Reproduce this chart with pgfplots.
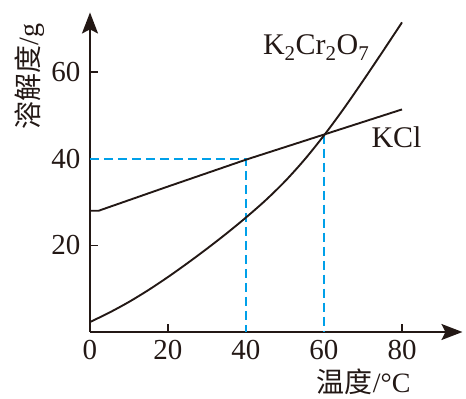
\documentclass[border=0pt]{standalone}
\usepackage{pgfplots}
\pgfplotsset{compat=1.18}
\usepackage{fontspec}
\setmainfont{Liberation Serif}
\newfontfamily\cjk{Noto Sans CJK SC}
\usetikzlibrary{arrows.meta}
\definecolor{ink}{RGB}{35,24,21}
\definecolor{dblue}{RGB}{0,160,233}
\begin{document}
\begin{tikzpicture}
\begin{axis}[
  anchor=origin, at={(0pt,0pt)},
  x=3.9pt, y=4.33pt,
  xmin=0, xmax=95.5, ymin=0, ymax=73.8,
  axis lines=left,
  axis line style={line width=1.8pt, color=ink, -{Stealth[length=21pt,width=16pt,inset=4pt]}},
  clip=false,
  xtick={20,80}, ytick={20,40,60},
  extra x ticks={0,40,60},
  extra x tick style={major tick length=0pt},
  tick align=inside,
  major tick length=8pt,
  tick style={line width=1.6pt, color=ink},
  /pgf/number format/assume math mode=true,
  tick label style={font=\fontsize{29}{32}\selectfont, text=ink},
  xticklabel style={yshift=-5pt},
  yticklabel style={xshift=-6pt},
  xlabel={{\cjk 温度}/°C},
  ylabel={{\cjk 溶解度}/g},
  every axis x label/.style={at={(ticklabel cs:0.735)}, anchor=near ticklabel, yshift=-2pt, font=\fontsize{28}{32}\selectfont, text=ink},
  every axis y label/.style={at={(ticklabel cs:0.8)}, anchor=near ticklabel, rotate=90, xshift=0pt, font=\fontsize{28}{32}\selectfont, text=ink},
]
\addplot[dblue, line width=1.8pt, dash pattern=on 9pt off 5pt] coordinates {(0,40) (40,40) (40,0)};
\addplot[dblue, line width=1.8pt, dash pattern=on 9pt off 5pt] coordinates {(60,45.6) (60,0)};
\addplot[ink, line width=1.9pt, sharp plot] coordinates {(0,28) (2.2,28) (20,33.6) (40,39.8) (60,45.6) (80,51.4)};
\addplot[ink, line width=1.9pt, smooth, tension=0.5] coordinates {(0,2.3) (5,4.5) (10,6.95) (15,9.7) (20,12.7) (25,15.9) (30,19.25) (35,22.75) (40,26.45) (45,30.4) (50,34.8) (55,39.8) (60,45.4) (65,51.5) (70,58.0) (75,64.7) (80,71.5)};
\node[anchor=base, text=ink, font=\fontsize{30}{34}\selectfont] at (axis cs:58,64) {K\textsubscript{2}Cr\textsubscript{2}O\textsubscript{7}};
\node[anchor=base, text=ink, font=\fontsize{30}{34}\selectfont] at (axis cs:78.6,42.5) {KCl};
\end{axis}
\path (-90pt,-64pt) rectangle (376pt,332pt);
\end{tikzpicture}
\end{document}
